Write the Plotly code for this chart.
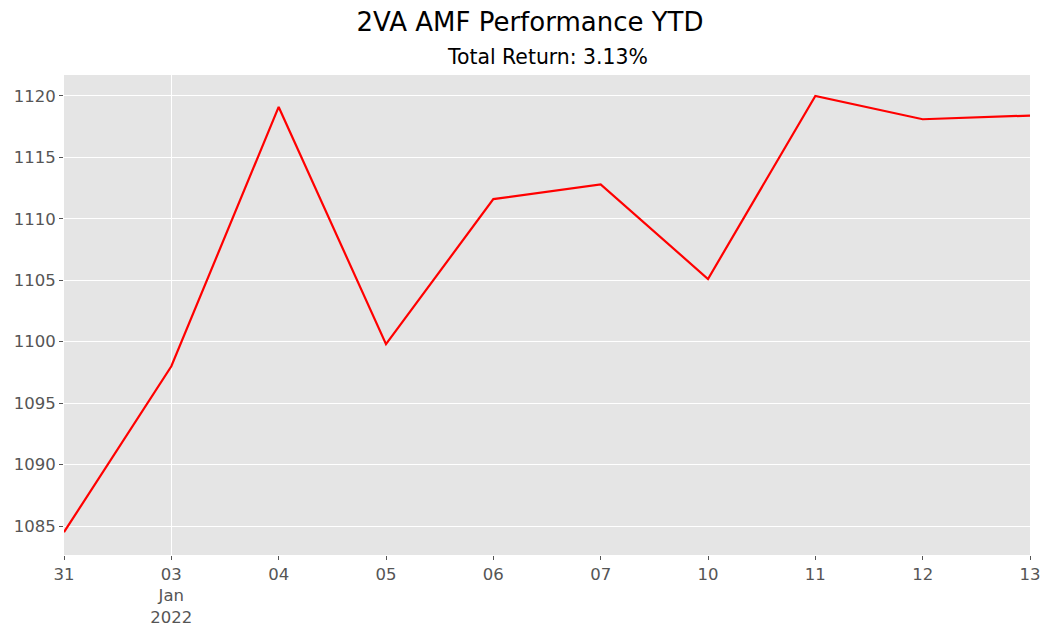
import plotly.graph_objects as go

dates = ["2021-12-31", "2022-01-03", "2022-01-04", "2022-01-05", "2022-01-06",
         "2022-01-07", "2022-01-10", "2022-01-11", "2022-01-12", "2022-01-13"]
tick_labels = ["31", "03<br>Jan<br>2022", "04", "05", "06", "07", "10", "11", "12", "13"]
values = [1084.5, 1098.0, 1119.1, 1099.8, 1111.6, 1112.8, 1105.1, 1120.0, 1118.1, 1118.4]
y_ticks = [1085, 1090, 1095, 1100, 1105, 1110, 1115, 1120]

x_idx = list(range(len(dates)))
font_family = "DejaVu Sans"
W, H = 1045, 627

fig = go.Figure()
fig.add_trace(go.Scatter(x=x_idx, y=values, mode="lines",
                         line=dict(color="red", width=2.2), showlegend=False,
                         customdata=dates, hovertemplate="%{customdata}: %{y}<extra></extra>"))
# invisible trace on overlay axis for the major-tick gridline (month start)
fig.add_trace(go.Scatter(x=[x_idx[1]], y=[values[1]], xaxis="x2", mode="markers",
                         marker=dict(opacity=0), showlegend=False, hoverinfo="skip"))

fig.update_layout(
    width=W, height=H,
    margin=dict(l=64, r=15, t=75, b=72),
    paper_bgcolor="white", plot_bgcolor="#E5E5E5",
    font=dict(family=font_family, size=16.5, color="#555555"),
    title=dict(text="2VA AMF Performance YTD", xref="container", x=530 / W,
               xanchor="center", yref="container", y=1 - 22 / H, yanchor="middle",
               font=dict(size=26, color="black", family=font_family)),
    annotations=[dict(text="Total Return: 3.13%", xref="paper", yref="paper",
                      x=0.5, y=1, yanchor="middle", yshift=18, showarrow=False,
                      font=dict(size=20.4, color="black", family=font_family))],
    xaxis=dict(range=[0, 9], tickvals=x_idx, ticktext=tick_labels, showgrid=False,
               zeroline=False, ticks="outside", ticklen=4, tickcolor="#555555",
               automargin=False, ticklabeloverflow="allow",
               tickfont=dict(size=16.5, color="#555555")),
    xaxis2=dict(range=[0, 9], overlaying="x", tickvals=[x_idx[1]], showgrid=True,
                gridcolor="white", gridwidth=1.2, showticklabels=False, zeroline=False,
                automargin=False, matches="x"),
    yaxis=dict(range=[1082.64, 1121.7], tickvals=y_ticks, showgrid=True,
               gridcolor="white", gridwidth=1.2, zeroline=False, ticks="outside",
               ticklen=4, tickcolor="#555555", automargin=False,
               tickfont=dict(size=16.5, color="#555555")),
)
fig.write_html("out.html", config={"displayModeBar": False},
               post_script="document.body.style.margin='0';document.body.style.overflow='hidden';")
